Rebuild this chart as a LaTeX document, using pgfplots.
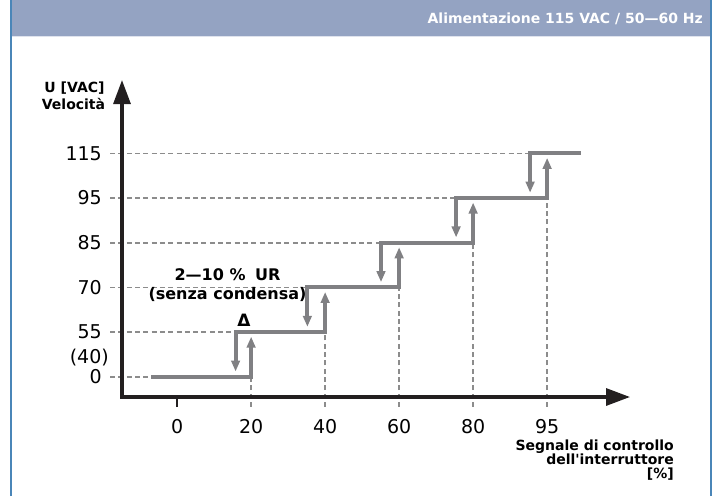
\documentclass[border=0pt]{standalone}
\usepackage{pgfplots}
\pgfplotsset{compat=1.18}
\usetikzlibrary{arrows.meta}
\usepackage{fontspec}
\setmainfont{DejaVu Sans}[Ligatures=TeXOff]
\definecolor{hdr}{HTML}{94A3C2}
\definecolor{brd}{HTML}{4A86B8}
\definecolor{stepc}{HTML}{808083}
\definecolor{dashc}{HTML}{8C8C8C}
\definecolor{axc}{HTML}{231F20}
\newcommand{\bfs}{\fontsize{14}{16}\selectfont\bfseries}
\begin{document}
\begin{tikzpicture}[x=1pt,y=1pt]
\path[use as bounding box] (0,0) rectangle (717,496);
\fill[hdr] (11,460) rectangle (711,496);
\draw[line width=1pt, color=hdr!30] (12,459.5) -- (710,459.5);
\draw[brd, line width=2pt] (11,0) -- (11,496);
\draw[brd, line width=1.5pt] (711,0) -- (711,496);
\node[anchor=base east, inner sep=0pt, text=white, font=\bfs] at (703,472.7) {Alimentazione 115 VAC / 50—60 Hz};

\begin{axis}[
  at={(122pt,99pt)}, anchor=south west,
  x=3.7pt, y=44.7pt,
  xmin=-14.9, xmax=122.4, ymin=-0.45, ymax=6.64,
  axis lines=left,
  axis on top,
  clip=false,
  axis line style={axc, line width=3.2pt, line cap=rect, -{Triangle[length=24pt,width=17pt]}},
  ytick={0,1,2,3,4,5},
  yticklabels={0,55,70,85,95,115},
  xtick={0},
  xticklabels={0},
  extra x ticks={20,40,60,80,100},
  extra x tick labels={20,40,60,80,95},
  extra x tick style={major tick length=0pt, xticklabel style={yshift=-10pt}},
  major tick length=10pt,
  tick align=outside,
  ytick style={draw=none},
  xtick style={axc, line width=1.8pt},
  tick label style={font=\fontsize{19}{19}\selectfont, inner sep=0pt},
  /pgf/number format/assume math mode=true,
  yticklabel style={anchor=east, xshift=-10pt},
  xticklabel style={anchor=north, yshift=-12pt},
]
% dashed guide lines
\addplot[dashc, line width=1.5pt, dash pattern=on 5pt off 3.3pt] coordinates {(-18.1,0) (-7,0)};
\addplot[dashc, line width=1.5pt, dash pattern=on 5pt off 3.3pt] coordinates {(-18.1,1) (15.8,1)};
\addplot[dashc, line width=1.5pt, dash pattern=on 5pt off 3.3pt] coordinates {(-18.1,2) (35.2,2)};
\addplot[dashc, line width=1.5pt, dash pattern=on 5pt off 3.3pt] coordinates {(-18.1,3) (55.1,3)};
\addplot[dashc, line width=1.5pt, dash pattern=on 5pt off 3.3pt] coordinates {(-18.1,4) (75.4,4)};
\addplot[dashc, line width=1.5pt, dash pattern=on 5pt off 3.3pt] coordinates {(-18.1,5) (95.4,5)};
\addplot[dashc, line width=1.5pt, dash pattern=on 5pt off 3.3pt] coordinates {(20,-0.67) (20,0)};
\addplot[dashc, line width=1.5pt, dash pattern=on 5pt off 3.3pt] coordinates {(40,-0.67) (40,1)};
\addplot[dashc, line width=1.5pt, dash pattern=on 5pt off 3.3pt] coordinates {(60,-0.67) (60,2)};
\addplot[dashc, line width=1.5pt, dash pattern=on 5pt off 3.3pt] coordinates {(80,-0.67) (80,3)};
\addplot[dashc, line width=1.5pt, dash pattern=on 5pt off 3.3pt] coordinates {(100,-0.67) (100,4)};
% step curve with hysteresis arrows
\addplot[stepc, line width=4pt, -{Triangle[length=11pt,width=8.5pt]}] coordinates {(-7,0) (20,0) (20,0.9)};
\addplot[stepc, line width=4pt, {Triangle[length=11pt,width=8.5pt]}-{Triangle[length=11pt,width=8.5pt]}] coordinates {(15.8,0.12) (15.8,1) (40,1) (40,1.9)};
\addplot[stepc, line width=4pt, {Triangle[length=11pt,width=8.5pt]}-{Triangle[length=11pt,width=8.5pt]}] coordinates {(35.2,1.12) (35.2,2) (60,2) (60,2.9)};
\addplot[stepc, line width=4pt, {Triangle[length=11pt,width=8.5pt]}-{Triangle[length=11pt,width=8.5pt]}] coordinates {(55.1,2.12) (55.1,3) (80,3) (80,3.9)};
\addplot[stepc, line width=4pt, {Triangle[length=11pt,width=8.5pt]}-{Triangle[length=11pt,width=8.5pt]}] coordinates {(75.4,3.12) (75.4,4) (100,4) (100,4.9)};
\addplot[stepc, line width=4pt, {Triangle[length=11pt,width=8.5pt]}-] coordinates {(95.4,4.12) (95.4,5) (109.2,5)};
\end{axis}

\node[anchor=east, inner sep=0pt, font=\fontsize{19}{19}\selectfont] at (109,138) {(40)};
% axis titles
\node[anchor=base, inner sep=0pt, font=\bfs] at (74.5,403.7) {U [VAC]};
\node[anchor=base, inner sep=0pt, font=\bfs] at (73.5,386.7) {Velocità};
\node[anchor=base east, inner sep=0pt, font=\bfs] at (674,46) {Segnale di controllo};
\node[anchor=base east, inner sep=0pt, font=\bfs] at (674,31.7) {dell'interruttore};
\node[anchor=base east, inner sep=0pt, font=\bfs] at (674,17.7) {[\%]};
% annotation
\node[anchor=base, inner sep=0pt, font=\fontsize{16}{18}\selectfont\bfseries] at (227.5,215.3) {2—10 \%\hspace{0.6em}UR};
\node[anchor=base, inner sep=0pt, font=\fontsize{16}{18}\selectfont\bfseries] at (227.5,196.7) {(senza condensa)};
\node[anchor=base, inner sep=0pt, font=\fontsize{17}{19}\selectfont\bfseries] at (244,169.3) {Δ};
\end{tikzpicture}
\end{document}
